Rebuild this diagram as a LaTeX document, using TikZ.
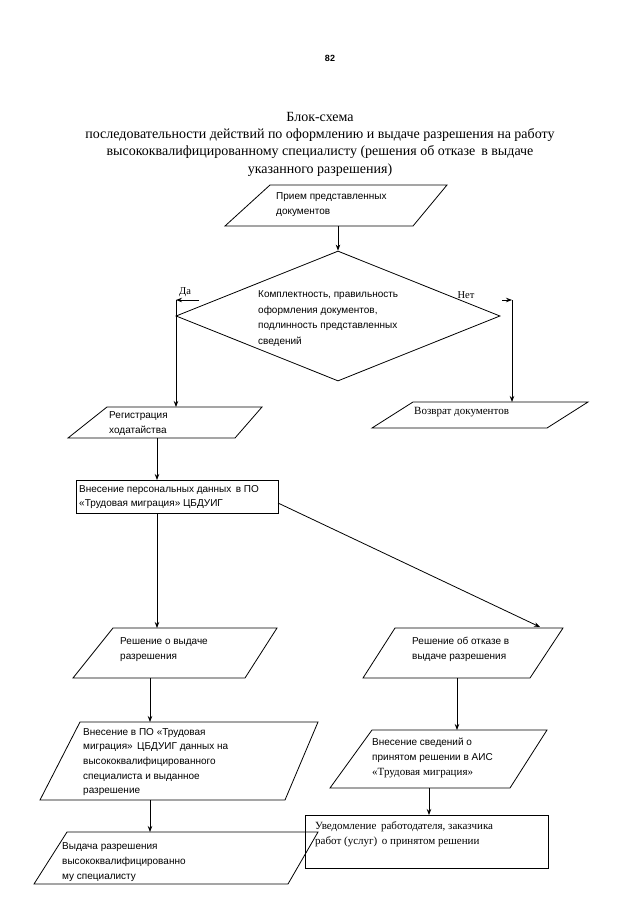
\documentclass[tikz,border=0pt]{standalone}
\usepackage{fontspec}
\setmainfont{Liberation Serif}
\newfontfamily\bxf{Liberation Sans}
\usetikzlibrary{shapes.geometric,arrows.meta}
\begin{document}
\begin{tikzpicture}[x=1pt,y=-1pt,
  ln/.style={line width=0.8pt},
  arr/.style={ln,-{Stealth[length=6pt,width=4.5pt]}},
  txt/.style={anchor=west,align=left,inner sep=0pt,font=\bxf\fontsize{10}{15}\selectfont},
  stxt/.style={anchor=west,align=left,inner sep=0pt,font=\fontsize{11}{15}\selectfont},
  rbox/.style={draw,ln,inner sep=0pt},
]
\useasboundingbox[fill=white] (0,0) rectangle (640,905);

% page number and title
\node[font=\bxf\bfseries\fontsize{9}{9}\selectfont] (pg) at (330,58) {82};
\node[align=center,inner sep=0pt,font=\fontsize{14}{17.3}\selectfont] (title) at (320,144)
 {Блок-схема\\последовательности действий по оформлению и выдаче разрешения на работу\\высококвалифицированному специалисту (решения об отказе\, в выдаче\\указанного разрешения)};

% 1 Прием
\draw[ln] (270,185) -- (447,185) -- (413,226) -- (225,226) -- cycle;
\node[txt] (t1) at (276,205) {Прием представленных\\документов};
\coordinate (p1b) at (338,226);

% diamond
\node[draw,ln,diamond,minimum width=324pt,minimum height=130pt,inner sep=0pt] (dia) at (338,316) {};
\node[txt,font=\bxf\fontsize{10}{15.6}\selectfont] (tdia) at (258,318.5) {Комплектность, правильность\\оформления документов,\\подлинность представленных\\сведений};
\draw[arr] (p1b) -- (dia.north);

% Да / Нет
\coordinate (yes0) at (199,300);
\coordinate (yes1) at (176,300);
\coordinate (no0) at (502,300);
\coordinate (no1) at (512,300);
\node[font=\fontsize{10.5}{10.5}\selectfont,inner sep=0pt] (lyes) at (185,292.5) {Да};
\node[font=\fontsize{10.5}{10.5}\selectfont,inner sep=0pt] (lno) at (466,295) {Нет};
\draw[arr] (yes0) -- (yes1);
\draw[arr] (no0) -- (no1);

% Регистрация
\draw[ln] (107,407) -- (262,407) -- (235,438) -- (68,438) -- cycle;
\node[txt] (t2) at (109,423.5) {Регистрация\\ходатайства};
\coordinate (p2t) at (176,407);
\coordinate (p2b) at (157,438);
\draw[arr] (yes1) -- (p2t);

% Возврат
\draw[ln] (413,402) -- (588,402) -- (547,428) -- (372,428) -- cycle;
\node[stxt] (t3) at (414,412) {Возврат документов};
\coordinate (p3t) at (512,402);
\draw[arr] (no1) -- (p3t);

% Внесение персональных данных
\node[rbox,minimum width=202pt,minimum height=33pt] (r1) at (177,496.5) {};
\node[txt,font=\bxf\fontsize{10}{14}\selectfont] (t4) at (79,497) {Внесение персональных данных\, в ПО\\«Трудовая миграция» ЦБДУИГ};
\coordinate (r1t) at (157,480);
\coordinate (r1b) at (157,513);
\coordinate (r1r) at (278,503);
\draw[arr] (p2b) -- (r1t);

% Решение о выдаче
\draw[ln] (113,628) -- (277,628) -- (245,678) -- (73,678) -- cycle;
\node[txt] (t5) at (120,649.5) {Решение о выдаче\\разрешения};
\coordinate (p5t) at (157,628);
\coordinate (p5b) at (150,678);
\draw[arr] (r1b) -- (p5t);

% Решение об отказе
\draw[ln] (395,628) -- (563,628) -- (530,678) -- (363,678) -- cycle;
\node[txt] (t6) at (412,649.5) {Решение об отказе в\\выдаче разрешения};
\coordinate (p6t) at (540,627);
\coordinate (p6b) at (457,678);
\draw[arr] (r1r) -- (p6t);

% Внесение сведений
\draw[ln] (372,730) -- (547,730) -- (510,788) -- (330,788) -- cycle;
\node[txt] (t7) at (372,758) {Внесение сведений о\\принятом решении в АИС\\{\rmfamily\fontsize{11}{15}\selectfont «Трудовая миграция»}};
\coordinate (p7t) at (457,730);
\coordinate (p7b) at (429,788);
\draw[arr] (p6b) -- (p7t);

% Уведомление
\node[rbox,minimum width=243pt,minimum height=53pt] (r2) at (426.5,841.5) {};
\node[stxt] (t8) at (315,834.5) {Уведомление\, работодателя, заказчика\\работ (услуг)\, о принятом решении};
\coordinate (r2t) at (429,815);
\draw[arr] (p7b) -- (r2t);

% Внесение в ПО
\draw[ln] (80,722) -- (318,722) -- (285,800) -- (40,800) -- cycle;
\node[txt,font=\bxf\fontsize{10}{14.7}\selectfont] (t9) at (83,762) {Внесение в ПО «Трудовая\\миграция»\, ЦБДУИГ данных на\\высококвалифицированного\\специалиста и выданное\\разрешение};
\coordinate (p9t) at (150,722);
\coordinate (p9b) at (150,800);
\draw[arr] (p5b) -- (p9t);

% Выдача
\draw[ln] (67,832) -- (318,832) -- (288,884) -- (34,884) -- cycle;
\node[txt] (t10) at (62,862) {Выдача разрешения\\высококвалифицированно\\му специалисту};
\coordinate (p10t) at (150,832);
\draw[arr] (p9b) -- (p10t);
\end{tikzpicture}
\end{document}
